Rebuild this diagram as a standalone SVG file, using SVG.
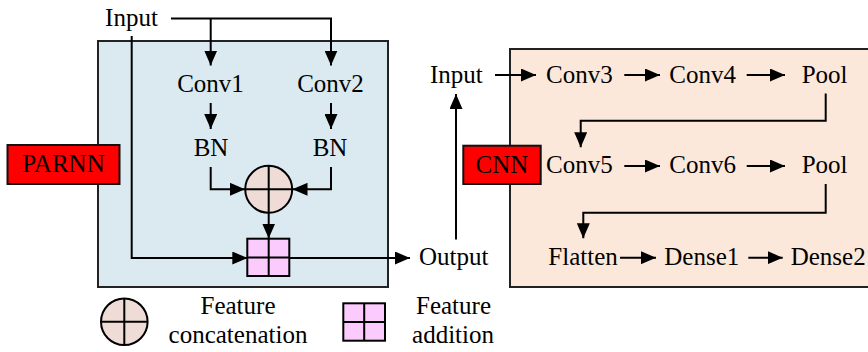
<svg xmlns="http://www.w3.org/2000/svg" width="868" height="352" viewBox="0 0 868 352">
<style>
text{font-family:"Liberation Serif","Times New Roman",serif;font-size:25px;fill:#000}
.ln{fill:none;stroke:#000;stroke-width:2}
.box{stroke:#222;stroke-width:2}
.tag{fill:#ff0000;stroke:#111;stroke-width:2}
.cat{fill:#f0dcd7;stroke:#000;stroke-width:2}
.add{fill:#fccbfd;stroke:#000;stroke-width:2}
</style>
<defs>
<marker id="ah" viewBox="0 0 15 13" refX="15" refY="6.5" markerWidth="15" markerHeight="13" markerUnits="userSpaceOnUse" orient="auto">
<path d="M0,0 L15,6.5 L0,13 Z" fill="#000"/>
</marker>
</defs>

<g id="parnn-panel">
<rect class="box" x="98" y="41" width="290" height="246" fill="#dbeaf1"/>
</g>
<g id="cnn-panel">
<rect class="box" x="510" y="49" width="370" height="238" fill="#fbe8db"/>
</g>

<g id="connectors">
<path class="ln" d="M171,18.5 H331 V65.5" marker-end="url(#ah)"/>
<path class="ln" d="M210.7,18.5 V65.5" marker-end="url(#ah)"/>
<path class="ln" d="M210.7,103 V129" marker-end="url(#ah)"/>
<path class="ln" d="M331,103 V129" marker-end="url(#ah)"/>
<path class="ln" d="M210.7,167 V189.3 H245" marker-end="url(#ah)"/>
<path class="ln" d="M331,167 V189.3 H292.5" marker-end="url(#ah)"/>
<path class="ln" d="M268.7,213 V238.5" marker-end="url(#ah)"/>
<path class="ln" d="M131.7,36 V258 H247.3" marker-end="url(#ah)"/>
<path class="ln" d="M289.3,258 H410" marker-end="url(#ah)"/>
<path class="ln" d="M456,239.5 V94" marker-end="url(#ah)"/>
<path class="ln" d="M495,75 H536" marker-end="url(#ah)"/>
<path class="ln" d="M624.3,75 H660" marker-end="url(#ah)"/>
<path class="ln" d="M746.7,75 H785" marker-end="url(#ah)"/>
<path class="ln" d="M825.7,93.5 V120.7 H580.7 V147.3" marker-end="url(#ah)"/>
<path class="ln" d="M624.3,166 H660" marker-end="url(#ah)"/>
<path class="ln" d="M746.7,166 H785" marker-end="url(#ah)"/>
<path class="ln" d="M825.7,184 V212.7 H583.3 V238.3" marker-end="url(#ah)"/>
<path class="ln" d="M620,257.7 H656" marker-end="url(#ah)"/>
<path class="ln" d="M748.3,257.7 H782.7" marker-end="url(#ah)"/>
</g>

<g id="input-left"><text x="131.5" y="26" text-anchor="middle">Input</text></g>
<g id="conv1"><text x="210.5" y="92" text-anchor="middle">Conv1</text></g>
<g id="conv2"><text x="330.5" y="92" text-anchor="middle">Conv2</text></g>
<g id="bn1"><text x="211" y="156" text-anchor="middle">BN</text></g>
<g id="bn2"><text x="330" y="156" text-anchor="middle">BN</text></g>
<g id="concat">
<circle class="cat" cx="268.7" cy="189.3" r="23.5"/>
<path class="ln" d="M245.2,189.3 H292.2 M268.7,165.8 V212.8"/>
</g>
<g id="addition">
<rect class="add" x="247.3" y="238.7" width="42" height="37.3"/>
<path class="ln" d="M247.3,257.5 H289.3 M268.7,238.7 V276"/>
</g>
<g id="parnn-label">
<rect class="tag" x="7.5" y="145" width="112" height="39"/>
<text x="63.5" y="171.5" text-anchor="middle">PARNN</text>
</g>
<g id="output"><text x="419" y="265">Output</text></g>

<g id="legend-concat">
<circle class="cat" cx="124.3" cy="321.7" r="23.3"/>
<path class="ln" d="M101,321.7 H147.6 M124.3,298.4 V345"/>
<text x="238" y="314" text-anchor="middle">Feature</text>
<text x="238" y="343" text-anchor="middle">concatenation</text>
</g>
<g id="legend-add">
<rect class="add" x="343.3" y="303.3" width="41.7" height="37.4"/>
<path class="ln" d="M343.3,322 H385 M364.2,303.3 V340.7"/>
<text x="453.5" y="314" text-anchor="middle">Feature</text>
<text x="453" y="343" text-anchor="middle">addition</text>
</g>

<g id="input-right"><text x="456.3" y="83" text-anchor="middle">Input</text></g>
<g id="conv3"><text x="546" y="83">Conv3</text></g>
<g id="conv4"><text x="669.3" y="83">Conv4</text></g>
<g id="pool1"><text x="801.7" y="83">Pool</text></g>
<g id="cnn-label">
<rect class="tag" x="463.3" y="145.7" width="77.4" height="38.3"/>
<text x="502" y="173" text-anchor="middle">CNN</text>
</g>
<g id="conv5"><text x="546" y="173">Conv5</text></g>
<g id="conv6"><text x="669.3" y="173">Conv6</text></g>
<g id="pool2"><text x="801.7" y="173">Pool</text></g>
<g id="flatten"><text x="548.3" y="265">Flatten</text></g>
<g id="dense1"><text x="664.3" y="265">Dense1</text></g>
<g id="dense2"><text x="790.7" y="265">Dense2</text></g>
</svg>
